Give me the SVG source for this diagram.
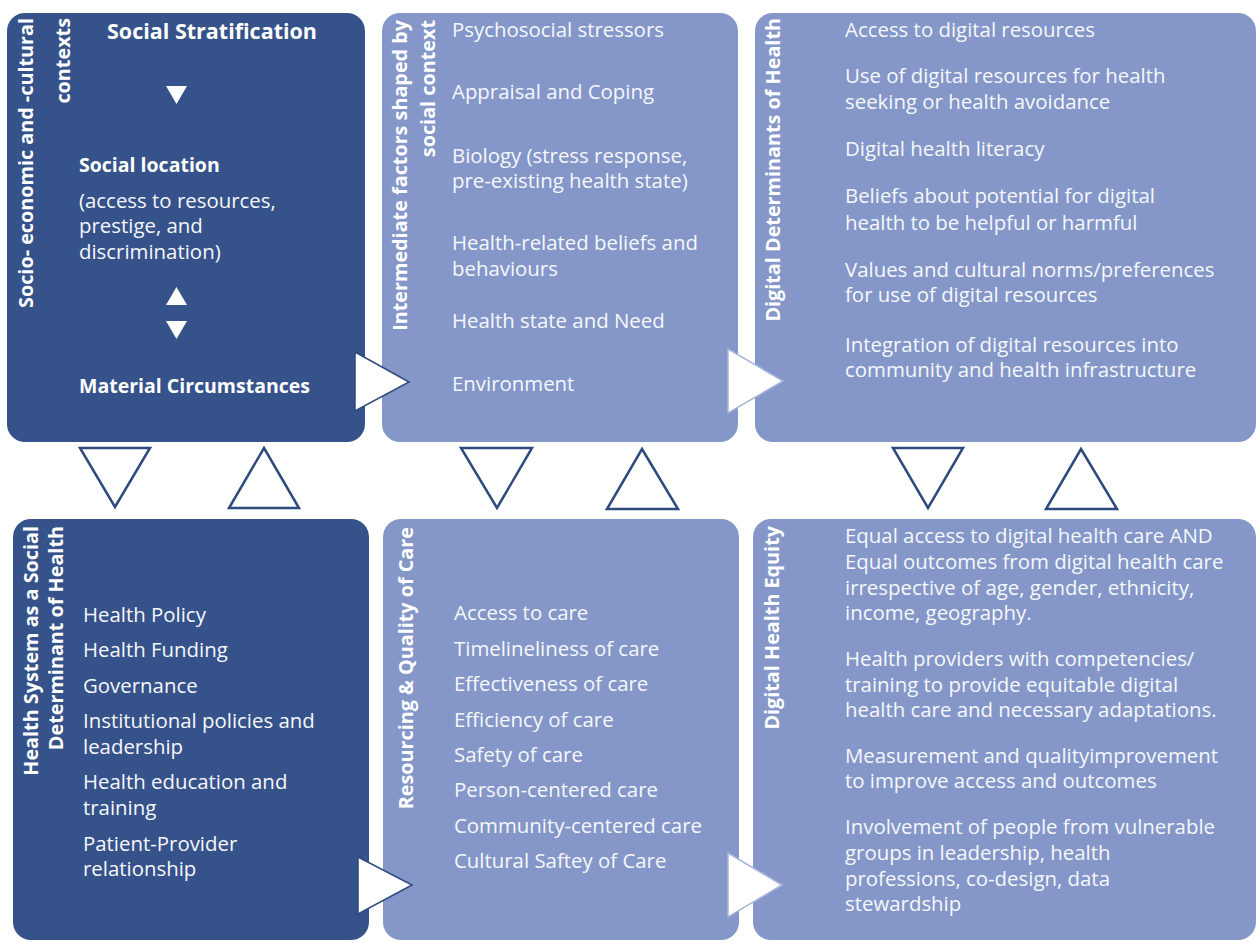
<svg xmlns="http://www.w3.org/2000/svg" width="1256" height="942" viewBox="0 0 1256 942">
<style>
.dark{fill:#36528A}
.light{fill:#8497C8}
text{font-family:"Open Sans","Noto Sans","DejaVu Sans",sans-serif;fill:#F6F7FB}
.b{font-size:20.4px}
.h{font-weight:bold;font-size:19.5px;fill:#FFFFFF}
.v{font-weight:bold;font-size:19.8px;fill:#FFFFFF;text-anchor:end}
.out{fill:#FFFFFF;stroke:#2E4A7E;stroke-width:2.5;stroke-linejoin:miter}
.wd{fill:#FFFFFF;stroke:#2E4A7E;stroke-width:1.5}
.wl{fill:#FFFFFF;stroke:#A9B6DA;stroke-width:1.5}
.sm{fill:#FFFFFF}
</style>
<rect width="1256" height="942" fill="#FFFFFF"/>

<g id="box-socio">
<rect class="dark" x="7" y="13" width="358" height="429" rx="18"/>
<text class="v" transform="translate(33,18) rotate(-90)">Socio- economic and -cultural</text>
<text class="v" transform="translate(70,18) rotate(-90)">contexts</text>
<text class="h" x="107" y="39" style="font-size:21.5px">Social Stratification</text>
<polygon class="sm" points="166,86 187,86 176.5,104"/>
<text class="h" x="79" y="172">Social location</text>
<text class="b" x="79" y="208">(access to resources,</text>
<text class="b" x="79" y="233">prestige, and</text>
<text class="b" x="79" y="259">discrimination)</text>
<polygon class="sm" points="176.5,287 187,305 166,305"/>
<polygon class="sm" points="166,321 187,321 176.5,339"/>
<text class="h" x="79" y="393">Material Circumstances</text>
</g>

<g id="box-intermediate">
<rect class="light" x="382" y="13" width="356" height="429" rx="18"/>
<text class="v" transform="translate(407,20) rotate(-90)">Intermediate factors shaped by</text>
<text class="v" transform="translate(435,20) rotate(-90)">social context</text>
<text class="b" x="452" y="37">Psychosocial stressors</text>
<text class="b" x="452" y="99">Appraisal and Coping</text>
<text class="b" x="452" y="163">Biology (stress response,</text>
<text class="b" x="452" y="188">pre-existing health state)</text>
<text class="b" x="452" y="250">Health-related beliefs and</text>
<text class="b" x="452" y="276">behaviours</text>
<text class="b" x="452" y="328">Health state and Need</text>
<text class="b" x="452" y="391">Environment</text>
</g>

<g id="box-digital-determinants">
<rect class="light" x="755" y="13" width="501" height="429" rx="18"/>
<text class="v" transform="translate(780,18) rotate(-90)">Digital Determinants of Health</text>
<text class="b" x="845" y="37">Access to digital resources</text>
<text class="b" x="845" y="83">Use of digital resources for health</text>
<text class="b" x="845" y="109">seeking or health avoidance</text>
<text class="b" x="845" y="156">Digital health literacy</text>
<text class="b" x="845" y="203">Beliefs about potential for digital</text>
<text class="b" x="845" y="230">health to be helpful or harmful</text>
<text class="b" x="845" y="277">Values and cultural norms/preferences</text>
<text class="b" x="845" y="302">for use of digital resources</text>
<text class="b" x="845" y="352">Integration of digital resources into</text>
<text class="b" x="845" y="377">community and health infrastructure</text>
</g>

<g id="box-health-system">
<rect class="dark" x="13" y="519" width="356" height="421" rx="18"/>
<text class="v" transform="translate(38,526) rotate(-90)">Health System as a Social</text>
<text class="v" transform="translate(63,526) rotate(-90)">Determinant of Health</text>
<text class="b" x="83" y="622">Health Policy</text>
<text class="b" x="83" y="657">Health Funding</text>
<text class="b" x="83" y="693">Governance</text>
<text class="b" x="83" y="728">Institutional policies and</text>
<text class="b" x="83" y="754">leadership</text>
<text class="b" x="83" y="789">Health education and</text>
<text class="b" x="83" y="815">training</text>
<text class="b" x="83" y="851">Patient-Provider</text>
<text class="b" x="83" y="876">relationship</text>
</g>

<g id="box-resourcing">
<rect class="light" x="383" y="519" width="356" height="421" rx="18"/>
<text class="v" transform="translate(413,527) rotate(-90)">Resourcing &amp; Quality of Care</text>
<text class="b" x="454" y="620">Access to care</text>
<text class="b" x="454" y="656">Timelineliness of care</text>
<text class="b" x="454" y="691">Effectiveness of care</text>
<text class="b" x="454" y="727">Efficiency of care</text>
<text class="b" x="454" y="762">Safety of care</text>
<text class="b" x="454" y="797">Person-centered care</text>
<text class="b" x="454" y="833">Community-centered care</text>
<text class="b" x="454" y="868">Cultural Saftey of Care</text>
</g>

<g id="box-equity">
<rect class="light" x="753" y="519" width="503" height="421" rx="18"/>
<text class="v" transform="translate(779,526) rotate(-90)">Digital Health Equity</text>
<text class="b" x="845" y="543">Equal access to digital health care AND</text>
<text class="b" x="845" y="569">Equal outcomes from digital health care</text>
<text class="b" x="845" y="595">irrespective of age, gender, ethnicity,</text>
<text class="b" x="845" y="620">income, geography.</text>
<text class="b" x="845" y="666">Health providers with competencies/</text>
<text class="b" x="845" y="692">training to provide equitable digital</text>
<text class="b" x="845" y="717">health care and necessary adaptations.</text>
<text class="b" x="845" y="763">Measurement and qualityimprovement</text>
<text class="b" x="845" y="788">to improve access and outcomes</text>
<text class="b" x="845" y="834">Involvement of people from vulnerable</text>
<text class="b" x="845" y="860">groups in leadership, health</text>
<text class="b" x="845" y="886">professions, co-design, data</text>
<text class="b" x="845" y="911">stewardship</text>
</g>

<g id="connectors">
<polygon class="wd" points="355,352 409,382 355,411"/>
<polygon class="wl" points="728,349 783,381 728,413"/>
<polygon class="wd" points="358,857 412,885 358,914"/>
<polygon class="wl" points="728,853 782,885 728,917"/>
<polygon class="out" points="80,448 150,448 115,507"/>
<polygon class="out" points="264,448 299,508 229,508"/>
<polygon class="out" points="461,448 532,448 497,508"/>
<polygon class="out" points="642,449 678,509 607,509"/>
<polygon class="out" points="893,448 963,448 928,508"/>
<polygon class="out" points="1081,449 1117,509 1046,509"/>
</g>
</svg>
